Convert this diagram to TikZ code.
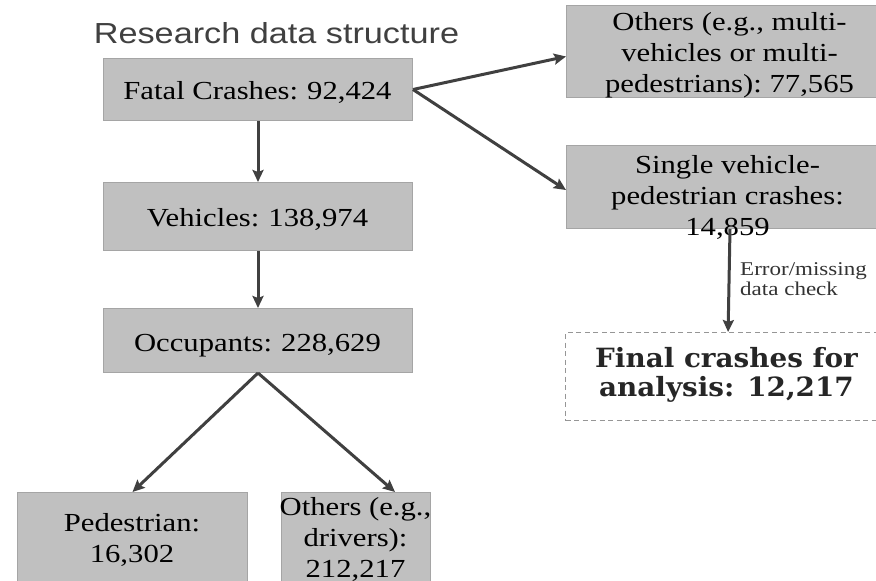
\documentclass[tikz,border=0pt]{standalone}
\usepackage{fontspec}
\setmainfont{Liberation Serif}[FakeStretch=1.18]
\newfontfamily\titlefont{Liberation Sans}[FakeStretch=1.18]
\newfontfamily\finalfont{DejaVu Serif}[FakeStretch=1.05]
\usetikzlibrary{arrows.meta}
\definecolor{boxfill}{RGB}{192,192,192}
\definecolor{boxline}{RGB}{165,165,165}
\definecolor{arr}{RGB}{64,64,64}
\definecolor{dashline}{RGB}{150,150,150}
\begin{document}
\begin{tikzpicture}[x=1pt,y=-1pt,
  box/.style={draw=boxline, fill=boxfill, line width=1pt, anchor=north west, inner sep=0pt},
  txt/.style={align=center, font=\fontsize{26}{31}\selectfont, inner sep=0pt},
  conn/.style={draw=arr, line width=3pt, -{Stealth[length=12pt,width=11pt,inset=2pt]}}]
\useasboundingbox (0,0) rectangle (876,581);
\fill[white] (0,0) rectangle (876,581);

% title
\node[inner sep=0pt, text=arr, font=\titlefont\fontsize{29}{33}\selectfont] (title) at (276.5,33) {Research data structure};

% boxes
\node[box, minimum width=309pt, minimum height=62pt] (fatal) at (103,58) {};
\node[box, minimum width=309pt, minimum height=68pt] (veh) at (103,182) {};
\node[box, minimum width=309pt, minimum height=64pt] (occ) at (103,308) {};
\node[box, minimum width=230pt, minimum height=110pt] (ped) at (17,492) {};
\node[box, minimum width=149pt, minimum height=110pt] (othd) at (281,492) {};
\node[box, minimum width=327pt, minimum height=92pt] (othm) at (566,5) {};
\node[box, minimum width=327pt, minimum height=83pt] (single) at (566,145) {};
\node[draw=dashline, fill=white, line width=1.2pt, dash pattern=on 5pt off 3.5pt,
      anchor=north west, inner sep=0pt, minimum width=325pt, minimum height=88pt] (final) at (565,332) {};

% texts
\node[txt] (fatalt) at (257.5,92) {Fatal Crashes:\hspace{0.35em}92,424};
\node[txt] (veht) at (257.5,219) {Vehicles:\hspace{0.35em}138,974};
\node[txt] (occt) at (257.5,345.5) {Occupants:\hspace{0.35em}228,629};
\node[txt] (pedt) at (132,540) {Pedestrian:\\16,302};
\node[txt] (othdt) at (355.5,539) {Others (e.g.,\\drivers):\\212,217};
\node[txt] (othmt) at (729.5,55) {Others (e.g., multi-\\vehicles or multi-\\pedestrians):\hspace{0.3em}77,565};
\node[txt] (singlet) at (727.5,197.5) {Single vehicle-\\pedestrian crashes:\\14,859};
\node[align=center, inner sep=0pt, text=black!85, font=\finalfont\bfseries\fontsize{26.5}{29}\selectfont] (finalt) at (726.5,375) {Final crashes for\\analysis: 12,217};
\node[align=left, anchor=west, inner sep=0pt, text=black!80, font=\fontsize{19.5}{20.5}\selectfont] (errl) at (740,279) {Error/missing\\data check};

% connectors
\draw[conn] (fatal.south) -- (veh.north);
\draw[conn] (veh.south) -- (occ.north);
\draw[conn] (occ.south) -- (ped.north);
\draw[conn] (occ.south) -- ([xshift=39pt]othd.north);
\draw[conn] (fatal.east) -- ([yshift=-5pt]othm.west);
\draw[conn] (fatal.east) -- ([yshift=-3pt]single.west);
\draw[conn] (single.south) -- (final.north);
\end{tikzpicture}
\end{document}
